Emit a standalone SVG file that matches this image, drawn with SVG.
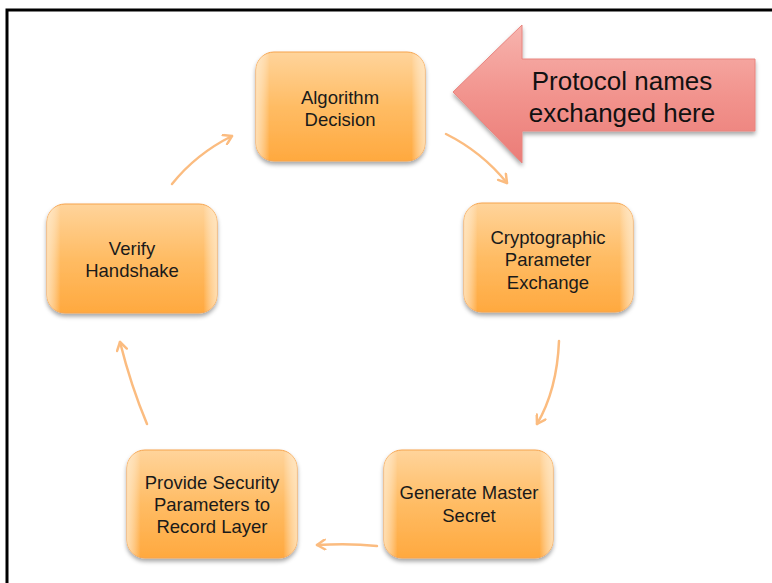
<svg xmlns="http://www.w3.org/2000/svg" width="772" height="583" viewBox="0 0 772 583">
<defs>
  <linearGradient id="boxFill" x1="0" y1="0" x2="0" y2="1">
    <stop offset="0" stop-color="#FFD49B"/>
    <stop offset="0.5" stop-color="#FFBC64"/>
    <stop offset="1" stop-color="#FFA93F"/>
  </linearGradient>
  <linearGradient id="boxEdge" x1="0" y1="0" x2="1" y2="0">
    <stop offset="0" stop-color="#FFE9C8" stop-opacity="0.8"/>
    <stop offset="0.08" stop-color="#FFFFFF" stop-opacity="0"/>
    <stop offset="0.92" stop-color="#FFFFFF" stop-opacity="0"/>
    <stop offset="1" stop-color="#FFE9C8" stop-opacity="0.8"/>
  </linearGradient>
  <linearGradient id="redFill" x1="0" y1="0" x2="0" y2="1">
    <stop offset="0" stop-color="#F7B4AE"/>
    <stop offset="0.5" stop-color="#F2948E"/>
    <stop offset="1" stop-color="#EB7C77"/>
  </linearGradient>
  <filter id="shadow" x="-10%" y="-10%" width="125%" height="130%">
    <feDropShadow dx="0" dy="3" stdDeviation="2" flood-color="#000" flood-opacity="0.35"/>
  </filter>
  <marker id="chev" viewBox="0 0 12 12" refX="10" refY="6" markerWidth="12" markerHeight="12" markerUnits="userSpaceOnUse" orient="auto">
    <path d="M2,1 L10,6 L2,11" fill="none" stroke="#FBBC80" stroke-width="2.5" stroke-linecap="round" stroke-linejoin="round"/>
  </marker>
</defs>
<style>
  .box { fill: url(#boxFill); stroke: #F6A34C; stroke-width: 1; filter: url(#shadow); }
  .edge { fill: url(#boxEdge); stroke: none; }
  .lbl { font-family: "Liberation Sans", Arial, sans-serif; font-size: 18.5px; fill: #1a1a1a; text-anchor: middle; }
  .big { font-family: "Liberation Sans", Arial, sans-serif; font-size: 26px; fill: #111; text-anchor: middle; }
  .conn { fill: none; stroke: #FBBC80; stroke-width: 2.5; stroke-linecap: round; marker-end: url(#chev); }
</style>
<rect x="0" y="0" width="772" height="583" fill="#FFFFFF"/>
<path d="M7,583 L7,10 L772,10" fill="none" stroke="#000" stroke-width="3"/>

<g id="callout">
  <path d="M453,92 L522,25 L522,59 L755,59 L755,131 L522,131 L522,163 Z" fill="url(#redFill)" stroke="#E8847F" stroke-width="1" filter="url(#shadow)"/>
  <text class="big" x="622" y="90">Protocol names</text>
  <text class="big" x="622" y="122">exchanged here</text>
</g>

<g id="connectors">
  <path class="conn" d="M172,184 Q196,154 232,136"/>
  <path class="conn" d="M446,134 Q482,152 507,183"/>
  <path class="conn" d="M559,341 Q557,390 537,424"/>
  <path class="conn" d="M377,546 Q350,543 317,545"/>
  <path class="conn" d="M147,424 Q131,386 120,342"/>
</g>

<g id="algorithm-decision">
  <rect class="box" x="256" y="52" width="169" height="109" rx="18"/>
  <rect class="edge" x="256" y="52" width="169" height="109" rx="18"/>
  <text class="lbl" x="340" y="104">Algorithm</text>
  <text class="lbl" x="340" y="126">Decision</text>
</g>

<g id="crypto-param-exchange">
  <rect class="box" x="464" y="203" width="169" height="109" rx="18"/>
  <rect class="edge" x="464" y="203" width="169" height="109" rx="18"/>
  <text class="lbl" x="548" y="244">Cryptographic</text>
  <text class="lbl" x="548" y="266">Parameter</text>
  <text class="lbl" x="548" y="289">Exchange</text>
</g>

<g id="generate-master-secret">
  <rect class="box" x="384" y="450" width="169" height="108" rx="18"/>
  <rect class="edge" x="384" y="450" width="169" height="108" rx="18"/>
  <text class="lbl" x="469" y="499">Generate Master</text>
  <text class="lbl" x="469" y="522">Secret</text>
</g>

<g id="provide-security-params">
  <rect class="box" x="127" y="450" width="170" height="108" rx="18"/>
  <rect class="edge" x="127" y="450" width="170" height="108" rx="18"/>
  <text class="lbl" x="212" y="489">Provide Security</text>
  <text class="lbl" x="212" y="511">Parameters to</text>
  <text class="lbl" x="212" y="533">Record Layer</text>
</g>

<g id="verify-handshake">
  <rect class="box" x="47" y="204" width="170" height="109" rx="18"/>
  <rect class="edge" x="47" y="204" width="170" height="109" rx="18"/>
  <text class="lbl" x="132" y="255">Verify</text>
  <text class="lbl" x="132" y="277">Handshake</text>
</g>
</svg>
